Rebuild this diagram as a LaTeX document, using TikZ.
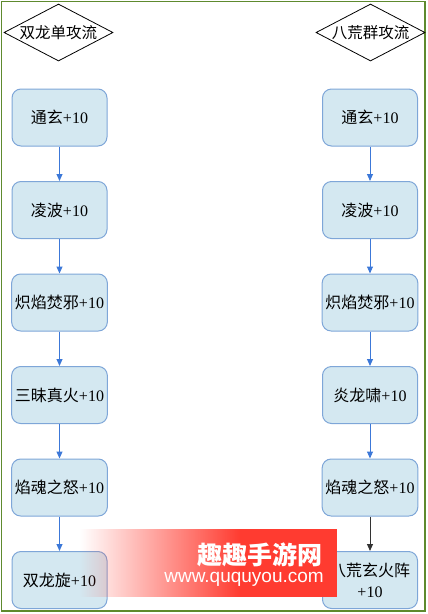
\documentclass[tikz,border=0pt]{standalone}
\usepackage{fontspec}
\setmainfont{Liberation Serif}
\newfontfamily\cjk{Noto Sans CJK SC}
\newfontfamily\wmsans{Liberation Sans}
\usetikzlibrary{shapes.geometric,arrows.meta,fadings}
\definecolor{frameg}{HTML}{5E8A2E}
\definecolor{boxfill}{HTML}{D4E8F1}
\definecolor{boxline}{HTML}{7EA6D8}
\definecolor{arrblue}{HTML}{3C78D8}
\definecolor{wmred}{HTML}{FF3B30}
\begin{document}
\begin{tikzpicture}[x=1pt,y=-1pt,
  dia/.style={shape=diamond,draw=black,line width=0.8pt,fill=white,inner sep=0pt,
    minimum width=109pt,minimum height=57pt,shape aspect=1.9,font=\fontsize{15.5}{17}\selectfont\cjk},
  stepbox/.style={draw=boxline,line width=1pt,fill=boxfill,rounded corners=9pt,
    minimum width=95pt,minimum height=57pt,align=center,font=\fontsize{16}{21}\selectfont},
  flow/.style={arrblue,line width=1pt,-{Triangle[length=7pt,width=6pt]}},
  flowk/.style={black!80,line width=1pt,-{Triangle[length=7pt,width=6pt]}}]
\useasboundingbox (0,0) rectangle (428,614);
\draw[frameg,line width=1.2pt] (1.5,1.5) rectangle (425,611);

\node[dia] (L0) at (58.5,32.5) {双龙单攻流};
\node[dia] (R0) at (370.5,32.5) {八荒群攻流};

\node[stepbox] (L1) at (59.5,117.5) {{\cjk 通玄}+10};
\node[stepbox] (L2) at (59.5,210) {{\cjk 凌波}+10};
\node[stepbox] (L3) at (59.5,302.5) {{\cjk 炽焰焚邪}+10};
\node[stepbox] (L4) at (59.5,395) {{\cjk 三昧真火}+10};
\node[stepbox] (L5) at (59.5,487.5) {{\cjk 焰魂之怒}+10};
\node[stepbox] (L6) at (59.5,580) {{\cjk 双龙旋}+10};

\node[stepbox] (R1) at (370,117.5) {{\cjk 通玄}+10};
\node[stepbox] (R2) at (370,210) {{\cjk 凌波}+10};
\node[stepbox] (R3) at (370,302.5) {{\cjk 炽焰焚邪}+10};
\node[stepbox] (R4) at (370,395) {{\cjk 炎龙啸}+10};
\node[stepbox] (R5) at (370,487.5) {{\cjk 焰魂之怒}+10};
\node[stepbox] (R6) at (370,580) {{\cjk 八荒玄火阵}\\+10};

\draw[flow] (L1) -- (L2);
\draw[flow] (L2) -- (L3);
\draw[flow] (L3) -- (L4);
\draw[flow] (L4) -- (L5);
\draw[flow] (L5) -- (L6);
\draw[flow] (R1) -- (R2);
\draw[flow] (R2) -- (R3);
\draw[flow] (R3) -- (R4);
\draw[flow] (R4) -- (R5);
\draw[flowk] (R5) -- (R6);

% watermark
\fill[wmred,path fading=west] (80,529) rectangle (240,597);
\fill[wmred] (239.5,529) rectangle (337,597);
\node[anchor=east,inner sep=0pt,text=white,font=\fontsize{25}{25}\selectfont\cjk\bfseries] (wm1) at (323,555) {趣趣手游网};
\node[anchor=east,inner sep=0pt,text=white,font=\fontsize{19}{19}\selectfont\wmsans] (wm2) at (324,579) {www.ququyou.com};
\end{tikzpicture}
\end{document}
